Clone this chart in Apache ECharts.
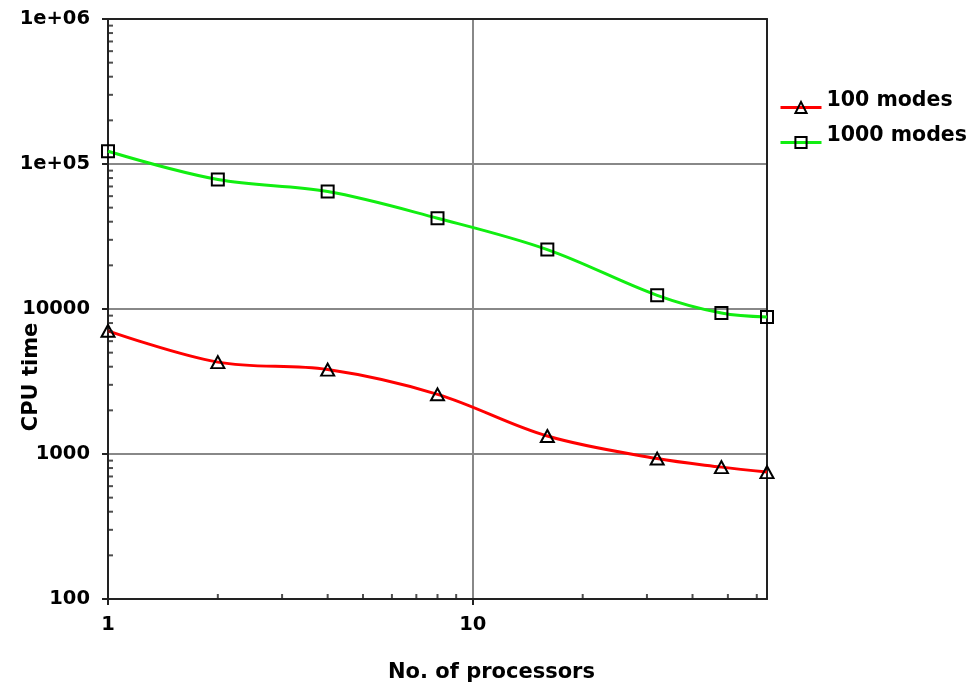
<!DOCTYPE html>
<html>
<head>
<meta charset="utf-8">
<script src="https://cdn.jsdelivr.net/npm/echarts@6/dist/echarts.min.js"></script>
<style>
html,body{margin:0;padding:0;background:#fff;}
#c{width:976px;height:690px;}
</style>
</head>
<body>
<div id="c"></div>
<script>
// Data
var processors = [1, 2, 4, 8, 16, 32, 48, 64];
var modes100 = [7070, 4300, 3820, 2580, 1330, 930, 812, 750];
var modes1000 = [122500, 78200, 64600, 42300, 25700, 12430, 9380, 8810];
var seriesNames = ['100 modes', '1000 modes'];
var yTickValues = [100, 1000, 10000, 100000, 1000000];
var yTickLabels = ['100', '1000', '10000', '1e+05', '1e+06'];
var xTickValues = [1, 10];
var xTickLabels = ['1', '10'];
var xMinorTicks = [2, 3, 4, 5, 6, 7, 8, 9, 20, 30, 40, 50, 60];
var yMinorTicks = [200, 300, 400, 500, 600, 700, 800, 900,
  2000, 3000, 4000, 5000, 6000, 7000, 8000, 9000,
  20000, 30000, 40000, 50000, 60000, 70000, 80000, 90000,
  200000, 300000, 400000, 500000, 600000, 700000, 800000, 900000];

var FONT = '"DejaVu Sans", sans-serif';
var chart = echarts.init(document.getElementById('c'), null, {renderer: 'canvas'});

function zip(xs, ys) { return xs.map(function (x, i) { return [x, ys[i]]; }); }
function lookup(vals, labels, v) {
  for (var i = 0; i < vals.length; i++) {
    if (Math.abs(Math.log10(v) - Math.log10(vals[i])) < 1e-6) return labels[i];
  }
  return '';
}

var frameAxis = {
  axisLine: {show: true, lineStyle: {color: '#222', width: 2}},
  axisTick: {show: false}, axisLabel: {show: false}, splitLine: {show: false}
};

var option = {
  animation: false,
  backgroundColor: '#fff',
  grid: {
    left: 108, right: 209, top: 19, bottom: 91,
    containLabel: false, outerBoundsMode: 'none',
    show: false
  },
  legend: {
    left: 779, top: 90, orient: 'vertical', padding: 0,
    itemWidth: 41, itemHeight: 14, itemGap: 0, itemTextGap: 0,
    data: seriesNames,
    lineStyle: {width: 3},
    formatter: function (name) { return '{t|' + name + '}'; },
    textStyle: {
      fontFamily: FONT, fontWeight: 'bold', fontSize: 20.5, color: '#000',
      rich: {t: {fontFamily: FONT, fontWeight: 'bold', fontSize: 20.5, color: '#000',
        lineHeight: 16, padding: [0, 0, 14, 0]}}
    }
  },
  xAxis: [{
    type: 'log', logBase: 10, min: 1, max: 64,
    name: 'No. of processors', nameLocation: 'middle', nameGap: 63, nameMoveOverlap: false,
    nameTextStyle: {fontFamily: FONT, fontWeight: 'bold', fontSize: 21, color: '#000', padding: [0, 0, 0, 108]},
    axisLine: {show: true, lineStyle: {color: '#222', width: 2}},
    axisTick: {show: true, inside: false, length: 6, lineStyle: {color: '#222', width: 2}},
    axisLabel: {
      fontFamily: FONT, fontWeight: 'bold', fontSize: 19.5, color: '#000', margin: 16,
      showMaxLabel: false,
      formatter: function (v) { return lookup(xTickValues, xTickLabels, v); }
    },
    splitLine: {show: true, lineStyle: {color: '#888', width: 2}},
    minorTick: {show: false}
  }, Object.assign({type: 'log', logBase: 10, min: 1, max: 64, position: 'top'}, frameAxis)],
  yAxis: [{
    type: 'log', logBase: 10, min: 100, max: 1000000,
    name: 'CPU time', nameLocation: 'middle', nameGap: 66, nameMoveOverlap: false,
    nameTextStyle: {fontFamily: FONT, fontWeight: 'bold', fontSize: 21, color: '#000', padding: [0, 136, 0, 0]},
    axisLine: {show: true, lineStyle: {color: '#222', width: 2}},
    axisTick: {show: true, inside: false, length: 6, lineStyle: {color: '#222', width: 2}},
    axisLabel: {
      fontFamily: FONT, fontWeight: 'bold', fontSize: 19.5, color: '#000', margin: 18,
      formatter: function (v) { return lookup(yTickValues, yTickLabels, v); }
    },
    splitLine: {show: true, lineStyle: {color: '#888', width: 2}}
  }, Object.assign({type: 'log', logBase: 10, min: 100, max: 1000000, position: 'right'}, frameAxis)],
  series: [
    {
      name: seriesNames[0], type: 'line', data: zip(processors, modes100),
      smooth: 0.35, symbol: 'triangle', symbolSize: [13, 12], showSymbol: true,
      lineStyle: {color: '#ff0000', width: 3},
      itemStyle: {color: 'rgba(0,0,0,0)', borderColor: '#000', borderWidth: 2},
      z: 3
    },
    {
      name: seriesNames[1], type: 'line', data: zip(processors, modes1000),
      smooth: 0.35, symbol: 'rect', symbolSize: 12, showSymbol: true,
      lineStyle: {color: '#11ee11', width: 3},
      itemStyle: {color: 'rgba(0,0,0,0)', borderColor: '#000', borderWidth: 2},
      z: 3
    },
    {
      name: 'xminor', type: 'scatter', silent: true,
      data: xMinorTicks.map(function (x) { return [x, 100]; }),
      symbol: 'rect', symbolSize: [2, 5], symbolOffset: [0, -2.5],
      itemStyle: {color: '#222'}, z: 4
    },
    {
      name: 'yminor', type: 'scatter', silent: true,
      data: yMinorTicks.map(function (y) { return [1, y]; }),
      symbol: 'rect', symbolSize: [5, 2], symbolOffset: [2.5, 0],
      itemStyle: {color: '#222'}, z: 4
    }
  ]
};
chart.setOption(option);
</script>
</body>
</html>
